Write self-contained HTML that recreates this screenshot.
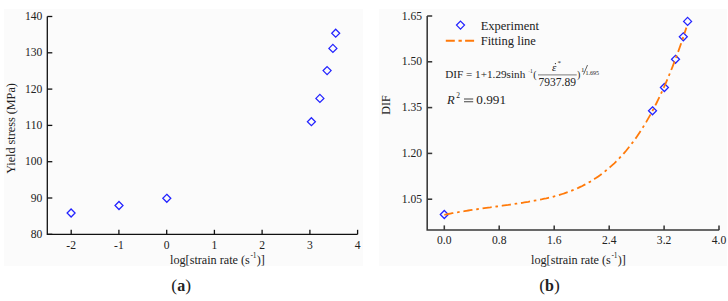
<!DOCTYPE html>
<html><head><meta charset="utf-8"><style>
html,body{margin:0;padding:0;background:#fff;}
svg{display:block;}
text{font-family:"Liberation Serif",serif;fill:#222;}
.t11{font-size:11.6px;}
.tl{font-size:11.3px;}
.t115{font-size:11.5px;}
.t12{font-size:12.2px;}
.tg{font-size:12.5px;}
.t125{font-size:12.5px;}
.t15{font-size:15px;}
.t6{font-size:6px;}
.t7{font-size:7px;}
.t9i{font-size:9px;font-style:italic;}
</style></head><body>
<svg width="728" height="301" viewBox="0 0 728 301">
<rect width="728" height="301" fill="#fff"/>
<rect x="4" y="9" width="359" height="257" fill="#fbfbfb"/>
<rect x="379" y="9" width="348" height="257" fill="#fbfbfb"/>
<path d="M47.3,16.5 L47.3,234.3 L357.6,234.3" fill="none" stroke="#111" stroke-width="1.3"/>
<path d="M47.3,16.5 L52.3,16.5" stroke="#111" stroke-width="1.3"/>
<text x="42.3" y="20.1" text-anchor="end" class="t11">140</text>
<path d="M47.3,52.8 L52.3,52.8" stroke="#111" stroke-width="1.3"/>
<text x="42.3" y="56.4" text-anchor="end" class="t11">130</text>
<path d="M47.3,89.1 L52.3,89.1" stroke="#111" stroke-width="1.3"/>
<text x="42.3" y="92.7" text-anchor="end" class="t11">120</text>
<path d="M47.3,125.4 L52.3,125.4" stroke="#111" stroke-width="1.3"/>
<text x="42.3" y="129.0" text-anchor="end" class="t11">110</text>
<path d="M47.3,161.7 L52.3,161.7" stroke="#111" stroke-width="1.3"/>
<text x="42.3" y="165.3" text-anchor="end" class="t11">100</text>
<path d="M47.3,198.0 L52.3,198.0" stroke="#111" stroke-width="1.3"/>
<text x="42.3" y="201.6" text-anchor="end" class="t11">90</text>
<path d="M47.3,234.3 L52.3,234.3" stroke="#111" stroke-width="1.3"/>
<text x="42.3" y="237.9" text-anchor="end" class="t11">80</text>
<path d="M71.2,234.3 L71.2,229.8" stroke="#111" stroke-width="1.3"/>
<text x="71.2" y="249.3" text-anchor="middle" class="t11">-2</text>
<path d="M118.9,234.3 L118.9,229.8" stroke="#111" stroke-width="1.3"/>
<text x="118.9" y="249.3" text-anchor="middle" class="t11">-1</text>
<path d="M166.7,234.3 L166.7,229.8" stroke="#111" stroke-width="1.3"/>
<text x="166.7" y="249.3" text-anchor="middle" class="t11">0</text>
<path d="M214.4,234.3 L214.4,229.8" stroke="#111" stroke-width="1.3"/>
<text x="214.4" y="249.3" text-anchor="middle" class="t11">1</text>
<path d="M262.1,234.3 L262.1,229.8" stroke="#111" stroke-width="1.3"/>
<text x="262.1" y="249.3" text-anchor="middle" class="t11">2</text>
<path d="M309.9,234.3 L309.9,229.8" stroke="#111" stroke-width="1.3"/>
<text x="309.9" y="249.3" text-anchor="middle" class="t11">3</text>
<path d="M357.6,234.3 L357.6,229.8" stroke="#111" stroke-width="1.3"/>
<text x="357.6" y="249.3" text-anchor="middle" class="t11">4</text>
<path d="M71.1,209.0 L75.1,213.0 L71.1,217.0 L67.1,213.0 Z" fill="none" stroke="#2222ff" stroke-width="1.25"/>
<path d="M119.0,201.5 L123.0,205.5 L119.0,209.5 L115.0,205.5 Z" fill="none" stroke="#2222ff" stroke-width="1.25"/>
<path d="M166.8,194.3 L170.8,198.3 L166.8,202.3 L162.8,198.3 Z" fill="none" stroke="#2222ff" stroke-width="1.25"/>
<path d="M311.4,117.7 L315.4,121.7 L311.4,125.7 L307.4,121.7 Z" fill="none" stroke="#2222ff" stroke-width="1.25"/>
<path d="M319.9,94.4 L323.9,98.4 L319.9,102.4 L315.9,98.4 Z" fill="none" stroke="#2222ff" stroke-width="1.25"/>
<path d="M327.1,66.6 L331.1,70.6 L327.1,74.6 L323.1,70.6 Z" fill="none" stroke="#2222ff" stroke-width="1.25"/>
<path d="M332.9,44.4 L336.9,48.4 L332.9,52.4 L328.9,48.4 Z" fill="none" stroke="#2222ff" stroke-width="1.25"/>
<path d="M335.7,29.2 L339.7,33.2 L335.7,37.2 L331.7,33.2 Z" fill="none" stroke="#2222ff" stroke-width="1.25"/>
<text transform="translate(15.0,128.5) rotate(-90)" text-anchor="middle" class="t12">Yield stress (MPa)</text>
<text x="170" y="263.6" class="t12">log[strain rate (s<tspan dx="0.5" dy="-6" font-size="7.5">-1</tspan><tspan dy="6">)]</tspan></text>
<text x="531" y="263.6" class="t12">log[strain rate (s<tspan dx="0.5" dy="-6" font-size="7.5">-1</tspan><tspan dy="6">)]</tspan></text>
<text x="181.2" y="290.8" text-anchor="middle" font-size="17.5px">(<tspan font-weight="bold" font-size="16px">a</tspan>)</text>
<path d="M427.2,16.0 L427.2,229.9 L719.2,229.9" fill="none" stroke="#383838" stroke-width="1.55"/>
<path d="M427.2,16.0 L432.2,16.0" stroke="#383838" stroke-width="1.55"/>
<text x="422" y="19.6" text-anchor="end" class="t11">1.65</text>
<path d="M427.2,61.8 L432.2,61.8" stroke="#383838" stroke-width="1.55"/>
<text x="422" y="65.4" text-anchor="end" class="t11">1.50</text>
<path d="M427.2,107.6 L432.2,107.6" stroke="#383838" stroke-width="1.55"/>
<text x="422" y="111.2" text-anchor="end" class="t11">1.35</text>
<path d="M427.2,153.4 L432.2,153.4" stroke="#383838" stroke-width="1.55"/>
<text x="422" y="157.0" text-anchor="end" class="t11">1.20</text>
<path d="M427.2,199.2 L432.2,199.2" stroke="#383838" stroke-width="1.55"/>
<text x="422" y="202.8" text-anchor="end" class="t11">1.05</text>
<path d="M444.3,229.9 L444.3,225.4" stroke="#383838" stroke-width="1.55"/>
<text x="444.3" y="243.8" text-anchor="middle" class="t11">0.0</text>
<path d="M499.2,229.9 L499.2,225.4" stroke="#383838" stroke-width="1.55"/>
<text x="499.2" y="243.8" text-anchor="middle" class="t11">0.8</text>
<path d="M554.2,229.9 L554.2,225.4" stroke="#383838" stroke-width="1.55"/>
<text x="554.2" y="243.8" text-anchor="middle" class="t11">1.6</text>
<path d="M609.2,229.9 L609.2,225.4" stroke="#383838" stroke-width="1.55"/>
<text x="609.2" y="243.8" text-anchor="middle" class="t11">2.4</text>
<path d="M664.1,229.9 L664.1,225.4" stroke="#383838" stroke-width="1.55"/>
<text x="664.1" y="243.8" text-anchor="middle" class="t11">3.2</text>
<path d="M719.0,229.9 L719.0,225.4" stroke="#383838" stroke-width="1.55"/>
<text x="719.0" y="243.8" text-anchor="middle" class="t11">4.0</text>
<path d="M444.3,210.5 L448.3,214.5 L444.3,218.5 L440.3,214.5 Z" fill="none" stroke="#2222ff" stroke-width="1.25"/>
<path d="M652.5,106.8 L656.5,110.8 L652.5,114.8 L648.5,110.8 Z" fill="none" stroke="#2222ff" stroke-width="1.25"/>
<path d="M664.4,83.5 L668.4,87.5 L664.4,91.5 L660.4,87.5 Z" fill="none" stroke="#2222ff" stroke-width="1.25"/>
<path d="M675.5,55.3 L679.5,59.3 L675.5,63.3 L671.5,59.3 Z" fill="none" stroke="#2222ff" stroke-width="1.25"/>
<path d="M683.3,32.8 L687.3,36.8 L683.3,40.8 L679.3,36.8 Z" fill="none" stroke="#2222ff" stroke-width="1.25"/>
<path d="M687.6,17.4 L691.6,21.4 L687.6,25.4 L683.6,21.4 Z" fill="none" stroke="#2222ff" stroke-width="1.25"/>
<path d="M444.3,214.8 L446.3,214.4 L448.3,214.0 L450.3,213.6 L452.3,213.2 L454.3,212.9 L456.3,212.5 L458.3,212.2 L460.3,211.8 L462.3,211.5 L464.3,211.2 L466.3,210.8 L468.3,210.5 L470.3,210.2 L472.3,209.9 L474.3,209.6 L476.3,209.3 L478.3,209.0 L480.3,208.7 L482.3,208.5 L484.3,208.2 L486.3,207.9 L488.3,207.6 L490.3,207.4 L492.3,207.1 L494.3,206.8 L496.3,206.5 L498.3,206.3 L500.3,206.0 L502.3,205.7 L504.3,205.4 L506.3,205.1 L508.3,204.9 L510.3,204.6 L512.3,204.3 L514.3,204.0 L516.3,203.7 L518.3,203.4 L520.3,203.1 L522.3,202.8 L524.3,202.4 L526.3,202.1 L528.3,201.8 L530.3,201.4 L532.3,201.1 L534.3,200.7 L536.3,200.3 L538.3,200.0 L540.3,199.6 L542.3,199.2 L544.3,198.7 L546.3,198.3 L548.3,197.8 L550.3,197.4 L552.3,196.9 L554.3,196.3 L556.3,195.8 L558.3,195.2 L560.3,194.6 L562.3,194.0 L564.3,193.4 L566.3,192.7 L568.3,192.0 L570.3,191.2 L572.3,190.4 L574.3,189.6 L576.3,188.8 L578.3,187.9 L580.3,186.9 L582.3,186.0 L584.3,184.9 L586.3,183.9 L588.3,182.7 L590.3,181.6 L592.3,180.4 L594.3,179.1 L596.3,177.8 L598.3,176.4 L600.3,175.0 L602.3,173.5 L604.3,171.9 L606.3,170.3 L608.3,168.7 L610.3,166.9 L612.3,165.1 L614.3,163.3 L616.3,161.3 L618.3,159.3 L620.3,157.2 L622.3,155.1 L624.3,152.8 L626.3,150.5 L628.3,148.0 L630.3,145.5 L632.3,142.9 L634.3,140.2 L636.3,137.4 L638.3,134.5 L640.3,131.5 L642.3,128.4 L644.3,125.2 L646.3,121.9 L648.3,118.4 L650.3,114.9 L652.3,111.2 L654.3,107.4 L656.3,103.5 L658.3,99.4 L660.3,95.2 L662.3,90.9 L664.3,86.5 L666.3,81.9 L668.3,77.2 L670.3,72.3 L672.3,67.3 L674.3,62.1 L676.3,56.8 L678.3,51.4 L680.3,45.8 L682.3,40.0 L684.3,34.0 L686.3,27.9 L686.4,27.6" fill="none" stroke="#ff7a0a" stroke-width="1.8" stroke-dasharray="9.2 3.8 2.6 3.8"/>
<text transform="translate(390.3,105) rotate(-90)" text-anchor="middle" class="t12">DIF</text>
<path d="M460.5,21.1 L464.5,25.1 L460.5,29.1 L456.5,25.1 Z" fill="none" stroke="#2222ff" stroke-width="1.25"/>
<text x="480.7" y="29.8" class="tg">Experiment</text>
<path d="M445.8,40.8 L474.3,40.8" stroke="#ff7a0a" stroke-width="2" stroke-dasharray="9 3.7 3.3 3.3"/>
<text x="480.7" y="44.6" class="tg">Fitting line</text>
<text x="445.2" y="78" font-size="11.2px">DIF = 1+1.29sinh</text>
<text x="528.2" y="73.3" font-size="5.5px"><tspan fill="#aaa">-</tspan>1</text>
<text x="533.3" y="78.2" font-size="10px">(</text>
<path d="M538,74.9 L576.7,74.9" stroke="#666" stroke-width="0.85"/>
<text x="552.0" y="71" font-size="11px" font-style="italic">ε</text>
<circle cx="555.4" cy="63.6" r="0.65" fill="#222"/>
<text x="557.6" y="65.3" font-size="7px">*</text>
<text x="538.6" y="86.3" class="t115">7937.89</text>
<text x="577.1" y="78.2" font-size="10px">)</text>
<text x="581" y="72" class="t7">1</text>
<path d="M583.5,74.5 L587.5,65" stroke="#222" stroke-width="0.7"/>
<text x="585.5" y="74.7" class="t6">1.695</text>
<text x="447.0" y="103.5" class="t125" font-style="italic">R</text>
<text x="456.2" y="98.2" font-size="7.5px">2</text>
<path d="M464,99 L473.2,99 M464,101.8 L473.2,101.8" stroke="#444" stroke-width="1.1"/>
<text x="476.3" y="103.5" font-size="13.2px">0.991</text>
<text x="549.5" y="290.8" text-anchor="middle" font-size="17.5px">(<tspan font-weight="bold" font-size="16px">b</tspan>)</text>
</svg>
</body></html>
